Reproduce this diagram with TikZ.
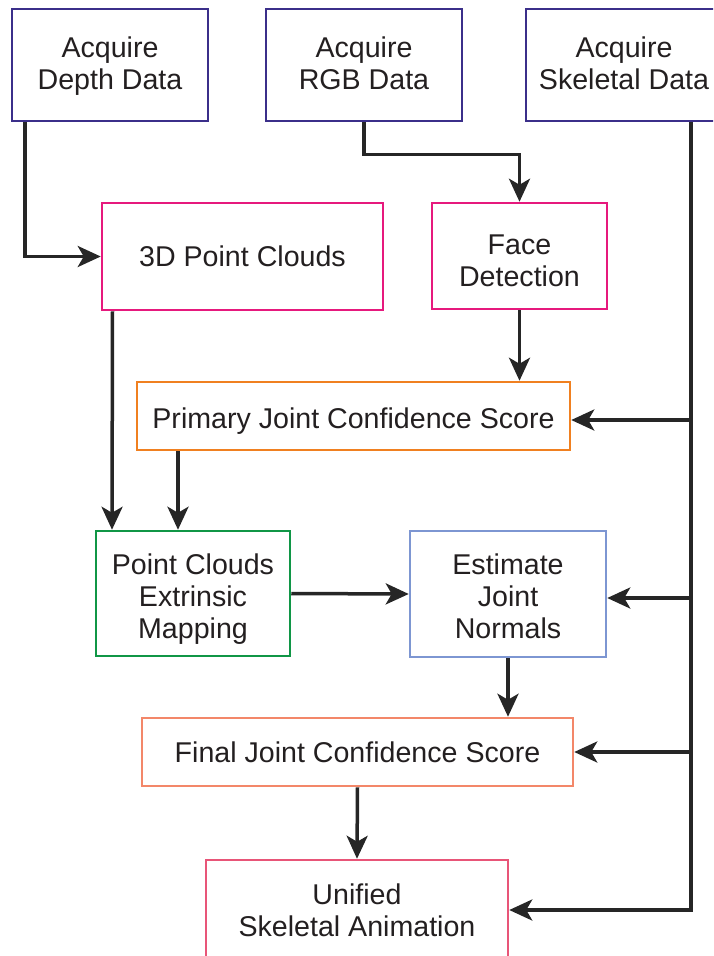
\documentclass[tikz,border=0pt]{standalone}
\usepackage{fontspec}
\setmainfont{Liberation Sans}
\usetikzlibrary{arrows.meta}
\definecolor{navybox}{RGB}{59,47,138}
\definecolor{magentabox}{RGB}{230,25,125}
\definecolor{orangebox}{RGB}{240,128,32}
\definecolor{greenbox}{RGB}{16,150,70}
\definecolor{bluebox}{RGB}{125,150,210}
\definecolor{salmonbox}{RGB}{243,135,105}
\definecolor{rosebox}{RGB}{232,85,120}
\definecolor{linkgray}{RGB}{38,38,38}
\definecolor{txtgray}{RGB}{35,31,32}
\begin{document}
\begin{tikzpicture}[x=1pt,y=-1pt,line join=miter,>={Stealth[length=23pt,width=21pt,inset=6pt]}]
			\tikzset{flowbox/.style={draw,rectangle,line width=2.5pt,inner sep=0pt,align=center,text=txtgray,font=\fontsize{28.6}{32}\selectfont,
					execute at begin node={\rule{0pt}{#1}},execute at end node={\rule[-7pt]{0pt}{7pt}}},
				flowbox/.default=28pt,
				link/.style={->,line width=3.5pt,draw=linkgray}}
			\clip (0,0) rectangle (713,956);
			% sources
			\node[flowbox=55pt,draw=navybox,minimum width=196pt,minimum height=112pt] (depth) at (110,65) {Acquire\\Depth Data};
			\node[flowbox=55pt,draw=navybox,minimum width=196pt,minimum height=112pt] (rgb) at (364,65) {Acquire\\RGB Data};
			\node[flowbox=55pt,draw=navybox,minimum width=196pt,minimum height=112pt] (skel) at (624,65) {Acquire\\Skeletal Data};
			% processing
			\node[flowbox=26pt,draw=magentabox,minimum width=281pt,minimum height=107pt] (clouds) at (242.5,256.5) {3D Point Clouds};
			\node[flowbox=67pt,draw=magentabox,minimum width=175pt,minimum height=106pt] (face) at (519.5,256) {Face\\Detection};
			\node[flowbox=32pt,draw=orangebox,minimum width=433pt,minimum height=68pt] (primary) at (353.5,416) {Primary Joint Confidence Score};
			\node[flowbox=96pt,draw=greenbox,minimum width=194pt,minimum height=125pt] (mapping) at (193,593.5) {Point Clouds\\Extrinsic\\Mapping};
			\node[flowbox=95pt,draw=bluebox,minimum width=196pt,minimum height=126pt] (normals) at (508,594) {Estimate\\Joint\\Normals};
			\node[flowbox,draw=salmonbox,minimum width=431pt,minimum height=68pt] (final) at (357.5,752) {Final Joint Confidence Score};
			\node[flowbox=59pt,draw=rosebox,minimum width=302pt,minimum height=100pt] (unified) at (357,910) {Unified\\Skeletal Animation};
			% connectors
			\draw[link] ([xshift=-85pt]depth.south) |- (clouds.west);
			\draw[link] (rgb.south) -- ++(0,32) -| (face.north);
			\draw[link] (face.south) -- (primary.north -| face.south);
			\draw[link] ([xshift=-130pt]clouds.south) -- ([xshift=-81pt]mapping.north);
			\draw[link] ([xshift=-175.5pt]primary.south) -- ([xshift=-15pt]mapping.north);
			\draw[link] (mapping.east) -- (normals.west);
			\draw[link] (normals.south) -- (final.north -| normals.south);
			\draw[link] (final.south) -- (unified.north);
			% skeletal feed
			\draw[link] ([xshift=67pt]skel.south) |- (unified.east);
			\coordinate (tapA) at (691,420);
			\coordinate (tapB) at (691,598);
			\coordinate (tapC) at (691,752);
			\draw[link] (tapA) -- (tapA -| primary.east);
			\draw[link] (tapB) -- (tapB -| normals.east);
			\draw[link] (tapC) -- (tapC -| final.east);
\end{tikzpicture}
\end{document}
